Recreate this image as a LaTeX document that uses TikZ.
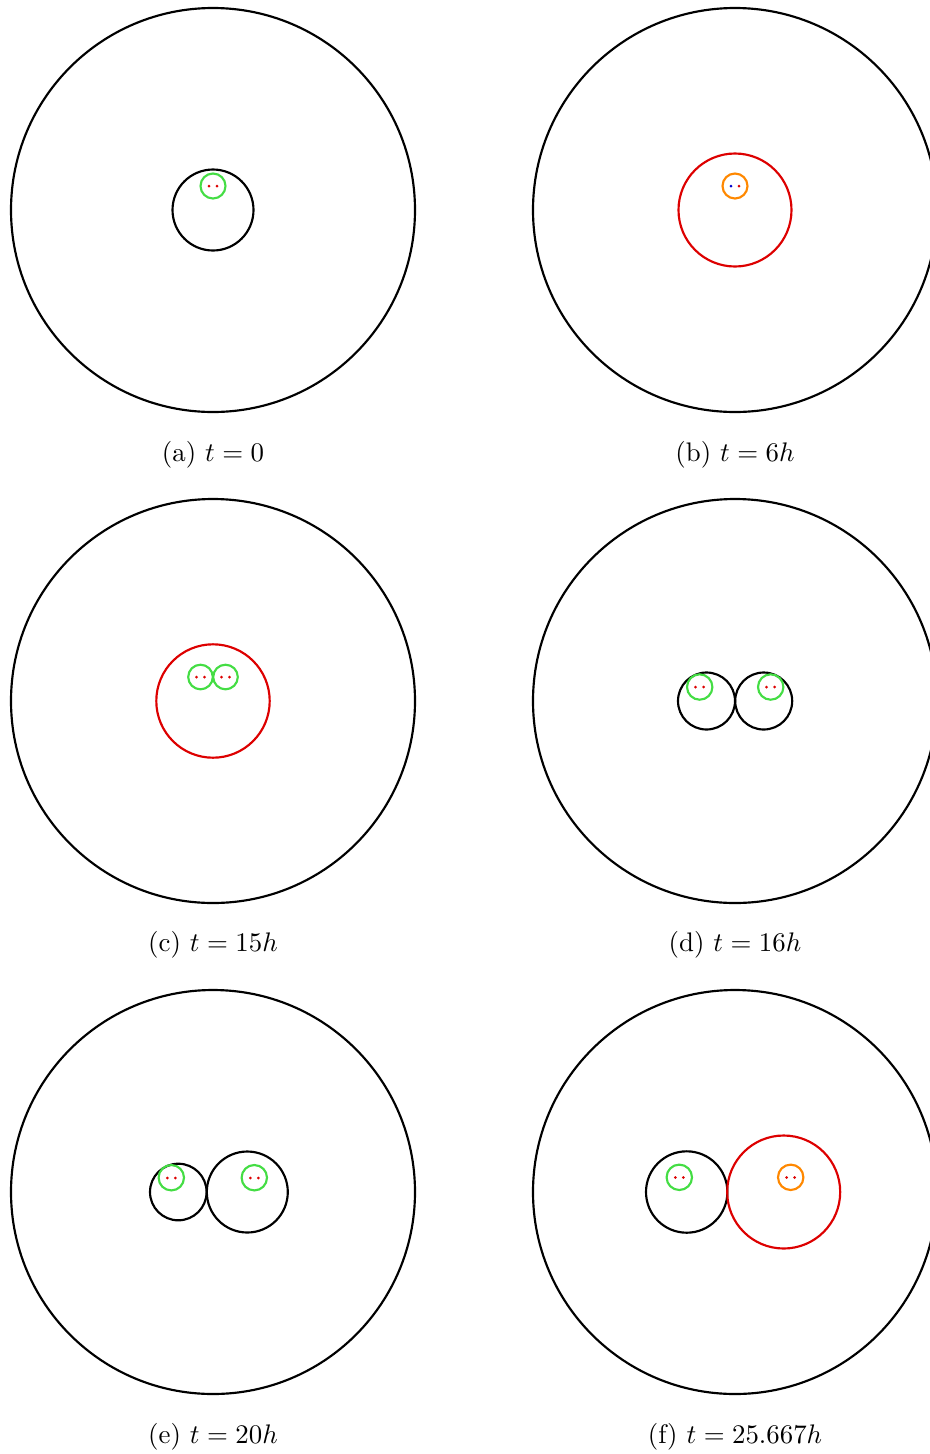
\documentclass[tikz,border=0pt]{standalone}
\usepackage{amsmath}
\usepackage{tikz}
\definecolor{bubgreen}{HTML}{44DD44}
\definecolor{bubred}{HTML}{DD0000}
\definecolor{buborange}{HTML}{FF8800}
\definecolor{bubblue}{HTML}{0000CC}

\begin{document}
\begin{tikzpicture}[
    x=0.3725pt, y=-0.3725pt,
    outer/.style={draw=black, thick},
    cell/.style={draw=#1, thick},
    dot/.style={fill=#1},
    subcap/.style={font=\normalsize},
  ]
  \useasboundingbox (0,0) rectangle (929,1454);

  % (a)
  \begin{scope}[shift={(213,210)}]
    \draw[outer] (0,0) circle (202);
    \draw[cell=black] (0,0) circle (40.5);
    \draw[cell=bubgreen] (0,-24) circle (12.5);
    \fill[dot=bubred] (-4,-24) circle (1.5) (4,-24) circle (1.5);
    \node[subcap] (capa) at (0,245) {(a) $t=0$};
  \end{scope}

  % (b)
  \begin{scope}[shift={(735,210)}]
    \draw[outer] (0,0) circle (202);
    \draw[cell=bubred] (0,0) circle (56.5);
    \draw[cell=buborange] (0,-24) circle (12.5);
    \fill[dot=bubblue] (-4,-24) circle (1.5);
    \fill[dot=bubred] (4,-24) circle (1.5);
    \node[subcap] (capb) at (0,245) {(b) $t=6h$};
  \end{scope}

  % (c)
  \begin{scope}[shift={(213,701)}]
    \draw[outer] (0,0) circle (202);
    \draw[cell=bubred] (0,0) circle (56.7);
    \draw[cell=bubgreen] (-12.5,-24) circle (12.3);
    \draw[cell=bubgreen] (12.5,-24) circle (12.3);
    \fill[dot=bubred] (-16.5,-24) circle (1.5) (-8.5,-24) circle (1.5);
    \fill[dot=bubred] (8.5,-24) circle (1.5) (16.5,-24) circle (1.5);
    \node[subcap] (capc) at (0,244) {(c) $t=15h$};
  \end{scope}

  % (d)
  \begin{scope}[shift={(735,701)}]
    \draw[outer] (0,0) circle (202);
    \draw[cell=black] (-28.5,0) circle (28.5);
    \draw[cell=black] (28.7,0) circle (28.5);
    \draw[cell=bubgreen] (-35.3,-14) circle (12.7);
    \draw[cell=bubgreen] (35.7,-14) circle (12.7);
    \fill[dot=bubred] (-39.5,-14) circle (1.5) (-31.3,-14) circle (1.5);
    \fill[dot=bubred] (31.5,-14) circle (1.5) (39.7,-14) circle (1.5);
    \node[subcap] (capd) at (0,244) {(d) $t=16h$};
  \end{scope}

  % (e)
  \begin{scope}[shift={(213,1192)}]
    \draw[outer] (0,0) circle (202);
    \draw[cell=black] (-34.7,0) circle (28.3);
    \draw[cell=black] (34.3,0) circle (40.5);
    \draw[cell=bubgreen] (-41.7,-14.3) circle (12.7);
    \draw[cell=bubgreen] (41.3,-14.3) circle (12.7);
    \fill[dot=bubred] (-45.7,-14) circle (1.5) (-37.7,-14) circle (1.5);
    \fill[dot=bubred] (37.3,-14) circle (1.5) (45.3,-14) circle (1.5);
    \node[subcap] (cape) at (0,245) {(e) $t=20h$};
  \end{scope}

  % (f)
  \begin{scope}[shift={(735,1192)}]
    \draw[outer] (0,0) circle (202);
    \draw[cell=black] (-48.3,0) circle (40.7);
    \draw[cell=bubred] (48.7,0) circle (56.5);
    \draw[cell=bubgreen] (-55.7,-14.7) circle (12.7);
    \draw[cell=buborange] (55.7,-14.7) circle (12.7);
    \fill[dot=bubred] (-59.7,-14.5) circle (1.5) (-51.7,-14.5) circle (1.5);
    \fill[dot=bubred] (51.7,-14.5) circle (1.5) (59.7,-14.5) circle (1.5);
    \node[subcap] (capf) at (0,245) {(f) $t=25.667h$};
  \end{scope}
\end{tikzpicture}
\end{document}
